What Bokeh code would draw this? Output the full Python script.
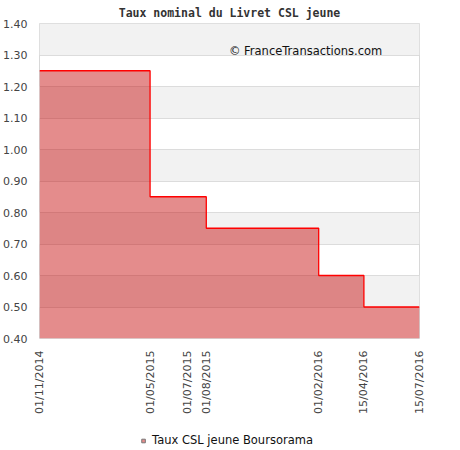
import math
import pandas as pd
from bokeh.plotting import figure
from bokeh.layouts import column
from bokeh.models import (Range1d, FixedTicker, DatetimeTickFormatter, Label,
                          Legend, LegendItem, NumeralTickFormatter)
from bokeh.embed import file_html
from bokeh.resources import INLINE

# rate changes (dd/mm/yyyy) and nominal rate in %
dates = ["01/11/2014", "01/05/2015", "01/07/2015", "01/08/2015",
         "01/02/2016", "15/04/2016", "15/07/2016"]
rates = [1.25, 0.85, 0.85, 0.75, 0.60, 0.50, 0.50]
y_ticks = [0.3, 0.4, 0.5, 0.6, 0.7, 0.8, 0.9, 1.0, 1.1, 1.2, 1.3, 1.4]
series_name = "Taux CSL jeune Boursorama"

x = pd.to_datetime(dates, format="%d/%m/%Y")
tick_ms = [int(d.timestamp() * 1000) for d in x]

p = figure(frame_width=380, frame_height=315, x_axis_type="datetime",
           x_range=Range1d(x[0], x[-1]), y_range=Range1d(0.4, 1.4),
           output_backend="svg", toolbar_location=None,
           title="Taux nominal du Livret CSL jeune",
           min_border_left=32, min_border_right=32, min_border_top=4,
           min_border_bottom=90)

p.title.align = "center"
p.title.text_font = "DejaVu Sans Mono"
p.title.text_font_size = "11.5px"
p.title.text_font_style = "bold"
p.title.text_color = "#333333"
p.title.standoff = 7

p.varea_step(x=x, y1=[0.4] * len(rates), y2=rates, step_mode="after",
             fill_color="#c30000", fill_alpha=0.45)
p.step(x=x, y=rates, mode="after", line_color="#ff0000", line_width=1.3)

p.xaxis.ticker = FixedTicker(ticks=tick_ms)
fmt = "%d/%m/%Y"
p.xaxis.formatter = DatetimeTickFormatter(milliseconds=fmt, seconds=fmt, minsec=fmt,
                                          minutes=fmt, hourmin=fmt, hours=fmt, days=fmt,
                                          months=fmt, years=fmt)
p.xaxis.major_label_orientation = math.pi / 2
p.yaxis.ticker = FixedTicker(ticks=y_ticks)
p.yaxis.formatter = NumeralTickFormatter(format="0.00")

for ax in (p.xaxis, p.yaxis):
    ax.axis_line_color = None
    ax.major_tick_line_color = None
    ax.minor_tick_line_color = None
    ax.major_label_text_font = "DejaVu Sans"
    ax.major_label_text_font_size = "11px"
    ax.major_label_text_color = "#444444"
    ax.major_label_standoff = 6

p.xgrid.grid_line_color = None
p.ygrid.grid_line_color = "#dcdcdc"
p.ygrid.band_fill_color = "#f2f2f2"
p.ygrid.band_fill_alpha = 1.0
p.outline_line_color = "#d8d8d8"
p.background_fill_color = "white"

p.add_layout(Label(x=pd.Timestamp("2015-09-07"), y=1.30, text="© FranceTransactions.com",
                   text_font="DejaVu Sans", text_font_size="11.5px",
                   text_color="#111111", y_offset=-3))

# legend lives in its own thin strip under the chart; the series points fall
# outside this strip's y range so only the legend swatch shows
leg = figure(width=444, height=24, x_axis_type="datetime",
             x_range=Range1d(x[0], x[-1]), y_range=Range1d(0, 0.1),
             output_backend="svg", toolbar_location=None,
             x_axis_location=None, y_axis_location=None, min_border=0)
leg.outline_line_color = None
leg.grid.grid_line_color = None
swatch = leg.scatter(x=x, y=rates, marker="square", size=9, fill_color="#e48b8a",
                     line_color="#777777", line_width=1)
legend = Legend(items=[LegendItem(label=series_name, renderers=[swatch])],
                orientation="horizontal", location="center",
                border_line_color=None, background_fill_alpha=0,
                label_text_font="DejaVu Sans", label_text_font_size="11.5px",
                label_text_color="#111111",
                glyph_width=9, glyph_height=9, padding=1, margin=0)
leg.add_layout(legend)

layout = column(p, leg, spacing=0)
open("out.html", "w").write(file_html(layout, INLINE))
